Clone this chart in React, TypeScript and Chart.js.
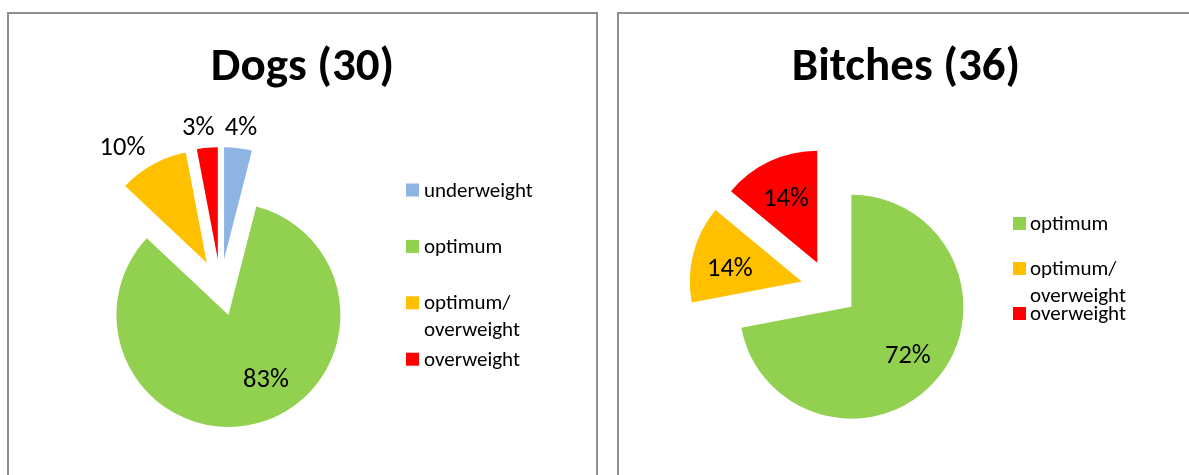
import React, { useEffect, useRef } from 'react';
import { Chart, PieController, ArcElement } from 'chart.js';

Chart.register(PieController, ArcElement);

const FONT = 'Carlito, Calibri, Lato, "Open Sans", sans-serif';

// ---- data ----
const dogsTitle = 'Dogs (30)';
const dogsCategories = ['underweight', 'optimum', 'optimum/overweight', 'overweight'];
const dogsValues = [4, 83, 10, 3];
const dogsColors = ['#8EB4E3', '#92D050', '#FFC000', '#FF0000'];

const bitchesTitle = 'Bitches (36)';
const bitchesCategories = ['optimum', 'optimum/overweight', 'overweight'];
const bitchesValues = [72, 14, 14];
const bitchesColors = ['#92D050', '#FFC000', '#FF0000'];

type Decor = {
  explode: number;
  title: string;
  titleSize: number;
  titleBaseline: number;
  titleCenterX: number;
  labelSize: number;
  labelPlace: string[];
  labelAngleAdj: number[];
  insideFrac: number;
  legendSize: number;
  squareX: number;
  squareSize: number;
  textX: number;
  firstBaseline: number;
  step: number;
  lineHeight: number;
};

const decorPlugin = {
  id: 'pieDecor',
  // explode every slice outward along its own bisector (Excel-style point explosion)
  afterDatasetUpdate(chart: any, args: any) {
    const o: Decor = chart.options.plugins.pieDecor;
    args.meta.data.forEach((arc: any) => {
      const mid = (arc.startAngle + arc.endAngle) / 2;
      arc.x += Math.cos(mid) * o.explode;
      arc.y += Math.sin(mid) * o.explode;
    });
  },
  afterDatasetsDraw(chart: any) {
    const o: Decor = chart.options.plugins.pieDecor;
    const ctx: CanvasRenderingContext2D = chart.ctx;
    const ds = chart.data.datasets[0];
    const values: number[] = ds.data;
    const total = values.reduce((a, b) => a + b, 0);
    const meta = chart.getDatasetMeta(0);
    ctx.save();
    // title
    ctx.fillStyle = '#000';
    ctx.font = `bold ${o.titleSize}px ${FONT}`;
    ctx.textAlign = 'center';
    ctx.textBaseline = 'alphabetic';
    ctx.fillText(o.title, o.titleCenterX, o.titleBaseline);

    // data labels
    ctx.font = `${o.labelSize}px ${FONT}`;
    meta.data.forEach((arc: any, i: number) => {
      const mid = (arc.startAngle + arc.endAngle) / 2 + (o.labelAngleAdj[i] || 0) * Math.PI / 180;
      const text = `${Math.round((values[i] / total) * 100)}%`;
      const m = ctx.measureText(text);
      const hw = m.width / 2;
      const hh = o.labelSize * 0.5;
      let d: number;
      if (o.labelPlace[i] === 'out') {
        d = arc.outerRadius + 8 + hw * Math.abs(Math.cos(mid)) + hh * Math.abs(Math.sin(mid));
      } else {
        d = arc.outerRadius * o.insideFrac;
      }
      const cx = arc.x + Math.cos(mid) * d;
      const cy = arc.y + Math.sin(mid) * d;
      const asc = m.actualBoundingBoxAscent;
      const desc = m.actualBoundingBoxDescent;
      ctx.fillText(text, cx, cy + (asc - desc) / 2);
    });

    // legend
    ctx.font = `${o.legendSize}px ${FONT}`;
    ctx.textAlign = 'left';
    const labels: string[] = chart.data.labels;
    labels.forEach((lab: string, i: number) => {
      const base = o.firstBaseline + i * o.step;
      ctx.fillStyle = ds.backgroundColor[i];
      ctx.fillRect(o.squareX, base - o.squareSize, o.squareSize, o.squareSize);
      ctx.fillStyle = '#000';
      const slash = lab.indexOf('/');
      const lines = slash >= 0 ? [lab.slice(0, slash + 1), lab.slice(slash + 1)] : [lab];
      lines.forEach((ln, k) => ctx.fillText(ln, o.textX, base + k * o.lineHeight));
    });
    ctx.restore();
  },
};

type PanelProps = {
  left: number;
  outerWidth: number;
  title: string;
  categories: string[];
  values: number[];
  colors: string[];
  center: { x: number; y: number };
  labelPlace: string[];
  labelAngleAdj: number[];
  legend: { squareX: number; textX: number; firstBaseline: number; step: number };
};

const CANVAS_H = 560;
const BORDER = 2;
const RADIUS = 112;
const EXPLODE = 28.5;

function PiePanel(props: PanelProps) {
  const ref = useRef<HTMLCanvasElement>(null);
  const W = props.outerWidth - 2 * BORDER;
  useEffect(() => {
    if (!ref.current) return;
    const chart = new Chart(ref.current, {
      type: 'pie',
      data: {
        labels: props.categories,
        datasets: [
          {
            data: props.values,
            backgroundColor: props.colors,
            borderWidth: 0,
            radius: RADIUS,
            offset: 0,
          } as any,
        ],
      },
      options: {
        responsive: false,
        animation: false,
        events: [],
        layout: {
          padding: {
            left: 0,
            top: 0,
            right: W - 2 * props.center.x,
            bottom: CANVAS_H - 2 * props.center.y,
          },
        },
        plugins: {
          legend: { display: false },
          title: { display: false },
          tooltip: { enabled: false },
          pieDecor: {
            explode: EXPLODE,
            title: props.title,
            titleSize: 47,
            titleBaseline: 65.5,
            titleCenterX: W / 2,
            labelSize: 26.5,
            labelPlace: props.labelPlace,
            labelAngleAdj: props.labelAngleAdj,
            insideFrac: 0.655,
            legendSize: 21,
            squareX: props.legend.squareX,
            squareSize: 13,
            textX: props.legend.textX,
            firstBaseline: props.legend.firstBaseline,
            step: props.legend.step,
            lineHeight: 26.5,
          },
        } as any,
      },
      plugins: [decorPlugin],
    });
    return () => chart.destroy();
  }, []);
  return (
    <div
      style={{
        position: 'absolute',
        left: props.left,
        top: 12,
        width: props.outerWidth,
        height: CANVAS_H + 2 * BORDER,
        boxSizing: 'border-box',
        border: `${BORDER}px solid #8f8f8f`,
        background: '#fff',
      }}
    >
      <canvas ref={ref} width={W} height={CANVAS_H} style={{ display: 'block', width: W, height: CANVAS_H }} />
    </div>
  );
}

export default function App() {
  return (
    <div
      style={{
        position: 'fixed',
        left: 0,
        top: 0,
        width: 1189,
        height: 475,
        overflow: 'hidden',
        background: '#fff',
      }}
    >
      <PiePanel
        left={7}
        outerWidth={591}
        title={dogsTitle}
        categories={dogsCategories}
        values={dogsValues}
        colors={dogsColors}
        center={{ x: 211.5, y: 273.6 }}
        labelPlace={['out', 'in', 'out', 'out']}
        labelAngleAdj={[0, -14.6, -7, -2.9]}
        legend={{ squareX: 397, textX: 415, firstBaseline: 182.5, step: 56.4 }}
      />
      <PiePanel
        left={617}
        outerWidth={578}
        title={bitchesTitle}
        categories={bitchesCategories}
        values={bitchesValues}
        colors={bitchesColors}
        center={{ x: 210.4, y: 274.5 }}
        labelPlace={['in', 'in', 'in']}
        labelAngleAdj={[0, -3, 0]}
        legend={{ squareX: 394, textX: 411, firstBaseline: 216, step: 45 }}
      />
    </div>
  );
}
